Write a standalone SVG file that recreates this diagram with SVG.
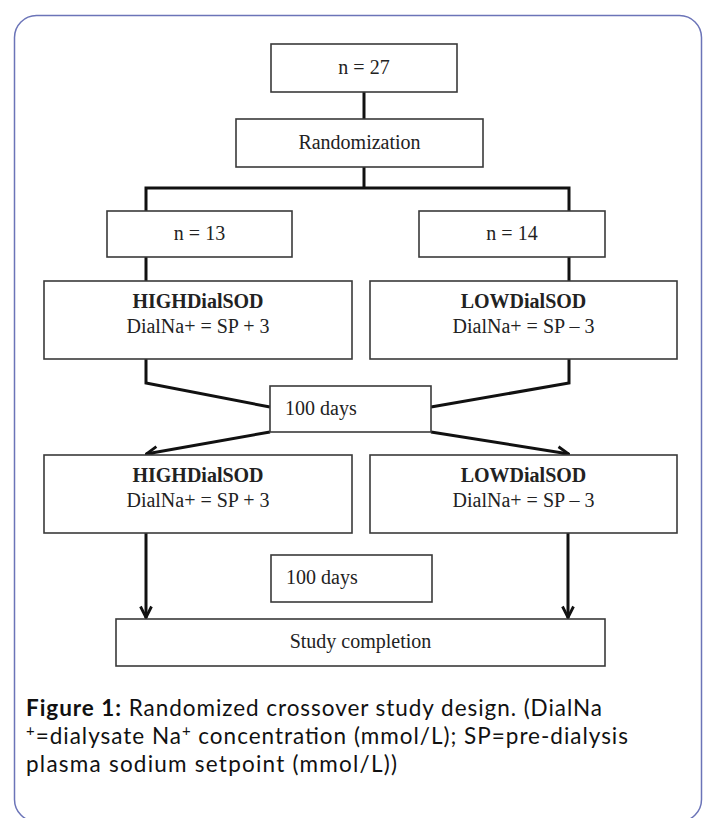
<svg xmlns="http://www.w3.org/2000/svg" width="703" height="818" viewBox="0 0 703 818">
<style>
.box{fill:#fff;stroke:#3a3a3a;stroke-width:1.6}
.t{font-family:"Liberation Serif","Times New Roman",serif;font-size:20px;fill:#222}
.b{font-weight:bold}
.c{fill:none;stroke:#111;stroke-width:3;stroke-linejoin:miter}
.cap{font-family:Lato,"Open Sans",sans-serif;font-size:22.5px;fill:#111}
</style>
<defs>
<marker id="ah" viewBox="0 0 14 14" refX="13" refY="7" markerWidth="14" markerHeight="14" markerUnits="userSpaceOnUse" orient="auto">
<path d="M1.5,1.5 L12.5,7 L1.5,12.5" fill="none" stroke="#111" stroke-width="2.8"/>
</marker>
</defs>
<rect x="14.5" y="15.5" width="687" height="806" rx="22" ry="22" fill="#fff" stroke="#6b74b8" stroke-width="1.5"/>
<g id="connectors">
<path class="c" d="M364,92 V119"/>
<path class="c" d="M364,167 V188"/>
<path class="c" d="M146,211 V188 H569 V211"/>
<path class="c" d="M146,257 V281"/>
<path class="c" d="M569,257 V281"/>
<path class="c" d="M146,359 V383 L270,407"/>
<path class="c" d="M569,359 V383 L431,407"/>
<path class="c" d="M270,432 L146,454" marker-end="url(#ah)"/>
<path class="c" d="M431,432 L569,454" marker-end="url(#ah)"/>
<path class="c" d="M146,533 V618" marker-end="url(#ah)"/>
<path class="c" d="M568,533 V618" marker-end="url(#ah)"/>
</g>
<g id="n27"><rect class="box" x="271" y="44" width="186" height="48"/><text class="t" x="364" y="74" text-anchor="middle">n = 27</text></g>
<g id="randomization"><rect class="box" x="236" y="119" width="247" height="48"/><text class="t" x="359.5" y="149" text-anchor="middle">Randomization</text></g>
<g id="n13"><rect class="box" x="107" y="211" width="185" height="46"/><text class="t" x="199.5" y="240" text-anchor="middle">n = 13</text></g>
<g id="n14"><rect class="box" x="419" y="211" width="186" height="46"/><text class="t" x="512" y="240" text-anchor="middle">n = 14</text></g>
<g id="high1"><rect class="box" x="44" y="281" width="308" height="78"/><text class="t b" x="198" y="308" text-anchor="middle">HIGHDialSOD</text><text class="t" x="198" y="333" text-anchor="middle">DialNa+ = SP + 3</text></g>
<g id="low1"><rect class="box" x="370" y="281" width="307" height="78"/><text class="t b" x="523.5" y="308" text-anchor="middle">LOWDialSOD</text><text class="t" x="523.5" y="333" text-anchor="middle">DialNa+ = SP – 3</text></g>
<g id="days1"><rect class="box" x="270" y="386" width="161" height="46"/><text class="t" x="285" y="415">100 days</text></g>
<g id="high2"><rect class="box" x="44" y="455" width="308" height="78"/><text class="t b" x="198" y="482" text-anchor="middle">HIGHDialSOD</text><text class="t" x="198" y="507" text-anchor="middle">DialNa+ = SP + 3</text></g>
<g id="low2"><rect class="box" x="370" y="455" width="307" height="78"/><text class="t b" x="523.5" y="482" text-anchor="middle">LOWDialSOD</text><text class="t" x="523.5" y="507" text-anchor="middle">DialNa+ = SP – 3</text></g>
<g id="days2"><rect class="box" x="271" y="555" width="161" height="47"/><text class="t" x="286" y="584">100 days</text></g>
<g id="completion"><rect class="box" x="116" y="619" width="489" height="47"/><text class="t" x="360.5" y="648" text-anchor="middle">Study completion</text></g>
<g id="caption">
<text class="cap" x="26" y="716" textLength="576"><tspan font-weight="bold">Figure 1:</tspan> Randomized crossover study design. (DialNa</text>
<text class="cap" x="26" y="744" textLength="602"><tspan font-size="15" dy="-8">+</tspan><tspan dy="8">=dialysate Na</tspan><tspan font-size="15" dy="-8">+</tspan><tspan dy="8"> concentration (mmol/L); SP=pre-dialysis</tspan></text>
<text class="cap" x="26" y="772" textLength="371">plasma sodium setpoint (mmol/L))</text>
</g>
</svg>
